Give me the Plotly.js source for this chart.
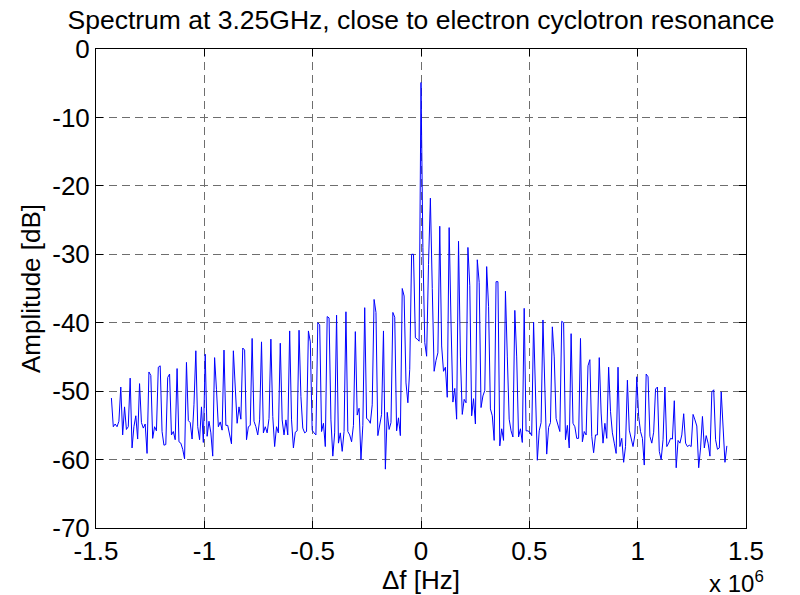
<!DOCTYPE html>
<html>
<head>
<meta charset="utf-8">
<script src="https://cdn.plot.ly/plotly-3.0.1.min.js"></script>
<style>html,body{margin:0;padding:0;background:#fff;}#chart{width:800px;height:595px;}</style>
</head>
<body>
<div id="chart"></div>
<script>
// Frequency offset of each spectrum bin, in kHz
const freqKHz = [
-1428.9,-1420.2,-1411.6,-1402.9,-1394.3,
-1385.6,-1376.9,-1368.3,-1359.6,-1351.0,
-1342.3,-1333.6,-1325.0,-1316.3,-1307.7,
-1299.0,-1290.3,-1281.7,-1273.0,-1264.4,
-1255.7,-1247.0,-1238.4,-1229.7,-1221.1,
-1212.4,-1203.7,-1195.1,-1186.4,-1177.8,
-1169.1,-1160.4,-1151.8,-1143.1,-1134.5,
-1125.8,-1117.1,-1108.5,-1099.8,-1091.2,
-1082.5,-1073.8,-1065.2,-1056.5,-1047.9,
-1039.2,-1030.5,-1021.9,-1013.2,-1004.6,
-995.9,-987.2,-978.6,-969.9,-961.3,
-952.6,-943.9,-935.3,-926.6,-918.0,
-909.3,-900.6,-892.0,-883.3,-874.7,
-866.0,-857.3,-848.7,-840.0,-831.4,
-822.7,-814.0,-805.4,-796.7,-788.1,
-779.4,-770.7,-762.1,-753.4,-744.8,
-736.1,-727.4,-718.8,-710.1,-701.5,
-692.8,-684.1,-675.5,-666.8,-658.2,
-649.5,-640.8,-632.2,-623.5,-614.9,
-606.2,-597.5,-588.9,-580.2,-571.6,
-562.9,-554.2,-545.6,-536.9,-528.3,
-519.6,-510.9,-502.3,-493.6,-485.0,
-476.3,-467.6,-459.0,-450.3,-441.7,
-433.0,-424.3,-415.7,-407.0,-398.4,
-389.7,-381.0,-372.4,-363.7,-355.1,
-346.4,-337.7,-329.1,-320.4,-311.8,
-303.1,-294.4,-285.8,-277.1,-268.5,
-259.8,-251.1,-242.5,-233.8,-225.2,
-216.5,-207.8,-199.2,-190.5,-181.9,
-173.2,-164.5,-155.9,-147.2,-138.6,
-129.9,-121.2,-112.6,-103.9,-95.3,
-86.6,-77.9,-69.3,-60.6,-52.0,
-43.3,-34.6,-26.0,-17.3,-8.7,
0.0,8.7,17.3,26.0,34.6,
43.3,52.0,60.6,69.3,77.9,
86.6,95.3,103.9,112.6,121.2,
129.9,138.6,147.2,155.9,164.5,
173.2,181.9,190.5,199.2,207.8,
216.5,225.2,233.8,242.5,251.1,
259.8,268.5,277.1,285.8,294.4,
303.1,311.8,320.4,329.1,337.7,
346.4,355.1,363.7,372.4,381.0,
389.7,398.4,407.0,415.7,424.3,
433.0,441.7,450.3,459.0,467.6,
476.3,485.0,493.6,502.3,510.9,
519.6,528.3,536.9,545.6,554.2,
562.9,571.6,580.2,588.9,597.5,
606.2,614.9,623.5,632.2,640.8,
649.5,658.2,666.8,675.5,684.1,
692.8,701.5,710.1,718.8,727.4,
736.1,744.8,753.4,762.1,770.7,
779.4,788.1,796.7,805.4,814.0,
822.7,831.4,840.0,848.7,857.3,
866.0,874.7,883.3,892.0,900.6,
909.3,918.0,926.6,935.3,943.9,
952.6,961.3,969.9,978.6,987.2,
995.9,1004.6,1013.2,1021.9,1030.5,
1039.2,1047.9,1056.5,1065.2,1073.8,
1082.5,1091.2,1099.8,1108.5,1117.1,
1125.8,1134.5,1143.1,1151.8,1160.4,
1169.1,1177.8,1186.4,1195.1,1203.7,
1212.4,1221.1,1229.7,1238.4,1247.0,
1255.7,1264.4,1273.0,1281.7,1290.3,
1299.0,1307.7,1316.3,1325.0,1333.6,
1342.3,1351.0,1359.6,1368.3,1376.9,
1385.6,1394.3,1402.9,1411.6
];

// Amplitude of each bin, in dB
const ampDB = [
-51.0,-55.2,-54.8,-55.2,-54.4,
-49.4,-56.4,-52.3,-55.6,-55.2,
-48.1,-58.3,-55.2,-53.6,-57.0,
-48.9,-54.6,-55.4,-54.8,-59.1,
-47.2,-47.7,-56.9,-55.2,-55.8,
-46.5,-46.3,-55.9,-57.9,-57.8,
-48.0,-47.5,-56.4,-55.9,-57.1,
-46.7,-57.4,-57.6,-58.5,-59.9,
-45.8,-54.3,-54.6,-57.0,-52.0,
-44.1,-55.2,-57.1,-52.3,-57.5,
-44.6,-56.6,-54.4,-56.1,-59.5,
-45.1,-49.8,-55.2,-54.5,-55.7,
-44.0,-55.0,-55.0,-56.5,-57.7,
-44.1,-49.8,-54.7,-52.3,-54.1,
-43.7,-44.0,-57.1,-55.2,-55.0,
-42.3,-54.4,-55.2,-56.4,-54.2,
-42.8,-56.1,-55.2,-56.1,-54.0,
-42.4,-53.7,-58.1,-55.2,-56.1,
-43.0,-54.2,-56.4,-54.2,-56.4,
-41.2,-54.2,-58.3,-56.0,-55.8,
-41.1,-50.8,-55.4,-56.1,-55.9,
-41.2,-42.8,-55.7,-56.1,-56.4,
-40.0,-40.3,-55.9,-54.7,-58.1,
-39.1,-39.3,-54.2,-59.5,-56.1,
-38.9,-57.6,-56.1,-58.8,-55.9,
-38.4,-55.9,-56.4,-57.4,-55.0,
-41.3,-53.5,-52.5,-60.0,-55.0,
-37.8,-54.0,-54.2,-54.7,-52.0,
-36.6,-38.5,-56.5,-54.6,-53.4,
-41.2,-61.4,-53.1,-55.6,-54.6,
-38.5,-39.2,-55.8,-53.9,-56.5,
-35.0,-36.1,-48.8,-51.7,-46.8,
-30.0,-30.0,-42.2,-42.4,-42.7,
-4.9,-29.0,-42.9,-44.9,-31.5,
-21.8,-35.0,-47.1,-45.5,-44.4,
-25.9,-43.4,-47.1,-46.5,-50.9,
-26.1,-40.0,-51.6,-49.6,-54.1,
-28.1,-45.0,-53.4,-51.2,-51.7,
-29.0,-34.6,-53.6,-51.1,-54.8,
-30.8,-34.1,-52.4,-50.7,-49.9,
-31.8,-37.6,-52.6,-53.6,-57.2,
-34.0,-34.0,-58.0,-55.5,-57.2,
-35.4,-45.0,-54.1,-55.8,-56.7,
-38.2,-45.0,-56.7,-55.5,-57.5,
-37.9,-55.8,-55.8,-56.0,-56.5,
-39.9,-50.7,-60.1,-55.8,-54.6,
-39.6,-50.2,-59.2,-55.3,-54.6,
-40.6,-45.0,-54.0,-55.2,-55.9,
-39.8,-40.0,-57.1,-55.0,-58.3,
-41.6,-54.7,-55.2,-56.9,-56.9,
-42.3,-57.4,-55.9,-56.4,-46.3,
-45.4,-56.6,-59.0,-56.4,-56.4,
-45.1,-53.2,-57.6,-54.7,-56.9,
-46.5,-53.0,-56.1,-57.6,-59.1,
-46.5,-58.1,-56.9,-60.4,-58.1,
-48.4,-55.7,-57.1,-58.1,-56.4,
-47.9,-53.7,-55.9,-56.9,-60.8,
-47.5,-47.9,-56.6,-57.6,-56.0,
-49.7,-49.4,-58.8,-60.0,-57.1,
-49.4,-58.1,-57.6,-56.9,-57.0,
-51.4,-61.2,-57.2,-57.6,-56.4,
-53.3,-57.6,-58.1,-57.9,-58.1,
-53.4,-54.2,-55.1,-61.2,-58.3,
-53.7,-58.3,-56.5,-57.6,-59.5,
-50.1,-49.8,-57.1,-58.5,-58.3,
-50.1,-55.2,-60.4,-58.0
];

const xTickVals = [-1.5, -1, -0.5, 0, 0.5, 1, 1.5];
const xTickText = ['-1.5', '-1', '-0.5', '0', '0.5', '1', '1.5'];
const yTickVals = [-70, -60, -50, -40, -30, -20, -10, 0];
const yTickText = ['-70', '-60', '-50', '-40', '-30', '-20', '-10', '0'];

const FONT = '"Liberation Sans", Arial, Helvetica, sans-serif';

const trace = {
  type: 'scatter',
  mode: 'lines',
  x: freqKHz.map(v => v / 1000),
  y: ampDB,
  line: {color: '#0000ff', width: 1},
  hoverinfo: 'x+y'
};

const axisCommon = {
  showline: true,
  linecolor: '#000',
  linewidth: 1,
  mirror: 'ticks',
  ticks: 'inside',
  ticklen: 7,
  tickcolor: '#000',
  showgrid: true,
  gridcolor: '#6e6e6e',
  gridwidth: 1,
  griddash: '8px,5px',
  zeroline: false,
  tickfont: {family: FONT, size: 26, color: '#000'},
  fixedrange: true
};

const layout = {
  width: 800,
  height: 595,
  paper_bgcolor: '#fff',
  plot_bgcolor: '#fff',
  showlegend: false,
  margin: {l: 96, r: 54, t: 49, b: 67, pad: 0},
  font: {family: FONT, color: '#000'},
  title: {
    text: 'Spectrum at 3.25GHz, close to electron cyclotron resonance',
    font: {family: FONT, size: 26.5, color: '#000'},
    x: 0.5, xref: 'paper', xanchor: 'center',
    y: 1 - 20 / 595, yref: 'container', yanchor: 'middle'
  },
  xaxis: Object.assign({}, axisCommon, {
    range: [-1.5, 1.5],
    tickmode: 'array',
    tickvals: xTickVals,
    ticktext: xTickText,
    title: {text: '\u0394f [Hz]', font: {family: FONT, size: 26, color: '#000'}, standoff: 2}
  }),
  yaxis: Object.assign({}, axisCommon, {
    range: [-70, 0],
    tickmode: 'array',
    tickvals: yTickVals,
    ticktext: yTickText,
    title: {text: 'Amplitude [dB]', font: {family: FONT, size: 26, color: '#000'}, standoff: 4}
  }),
  annotations: [{
    text: 'x 10<sup>6</sup>',
    xref: 'paper', yref: 'paper',
    x: 1.03, y: -0.078,
    xanchor: 'right', yanchor: 'top',
    showarrow: false,
    font: {family: FONT, size: 24, color: '#000'}
  }]
};

Plotly.newPlot('chart', [trace], layout, {displayModeBar: false, staticPlot: true});
</script>
</body>
</html>
